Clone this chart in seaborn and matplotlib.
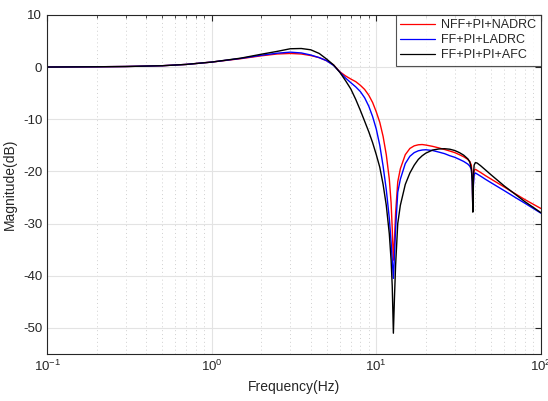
import numpy as np
import pandas as pd
import matplotlib
matplotlib.use('Agg')
import matplotlib.pyplot as plt
import matplotlib.ticker as mticker
import seaborn as sns

# frequency points (Hz), shared by the three curves
freq = [0.1, 0.2, 0.3, 0.5, 0.7, 1.0, 1.5, 2.0, 2.5, 3.0, 3.5, 4.0, 4.5, 5.0, 5.5,
        6.0, 6.5, 7.0, 7.5, 8.0, 8.5, 9.0, 9.5, 10.0, 10.5, 11.0, 11.5, 12.0, 12.3,
        12.5, 12.7, 12.9, 13.1, 13.5, 14.0, 15.0, 16.0, 17.0, 18.0, 19.0, 20.0,
        22.0, 24.0, 26.0, 28.0, 30.0, 32.0, 34.0, 36.0, 37.0, 37.8, 38.3, 38.6,
        38.9, 39.3, 40.0, 41.0, 43.0, 46.0, 50.0, 60.0, 70.0, 80.0, 90.0, 100.0]

mag_nff = [0.0, 0.05, 0.1, 0.25, 0.5, 0.95, 1.6, 2.15, 2.5, 2.6, 2.5, 2.2, 1.8, 1.2, 0.4,
           -0.9, -1.7, -2.3, -2.8, -3.5, -4.3, -5.4, -6.8, -8.6, -10.6, -13.3, -16.8, -21.5, -26.0,
           -31.0, -37.0, -33.0, -28.0, -22.0, -19.5, -16.8, -15.6, -15.1, -14.9, -14.85, -14.95,
           -15.2, -15.5, -15.8, -16.1, -16.4, -16.8, -17.2, -17.7, -18.1, -18.8, -21.0, -27.5,
           -22.0, -19.8, -19.6, -19.8, -20.2, -20.8, -21.5, -23.0, -24.3, -25.4, -26.3, -27.1]

mag_ladrc = [0.0, 0.05, 0.1, 0.25, 0.5, 0.95, 1.65, 2.25, 2.65, 2.85, 2.7, 2.3, 1.8, 1.2, 0.3,
             -0.95, -2.1, -3.0, -3.8, -4.7, -5.9, -7.5, -9.5, -11.9, -15.0, -19.0, -23.5, -29.0, -33.5,
             -37.0, -40.5, -36.0, -31.0, -24.0, -21.5, -18.5, -17.1, -16.4, -16.05, -15.9, -15.85,
             -16.0, -16.3, -16.6, -17.0, -17.3, -17.7, -18.1, -18.6, -19.0, -19.6, -21.8, -27.5,
             -22.7, -20.6, -20.3, -20.5, -20.9, -21.5, -22.2, -23.7, -25.0, -26.1, -27.1, -28.0]

mag_afc = [0.0, 0.05, 0.1, 0.25, 0.5, 0.95, 1.7, 2.45, 3.0, 3.5, 3.55, 3.3, 2.6, 1.5, 0.4,
           -1.0, -2.6, -4.2, -6.2, -8.3, -10.4, -12.4, -14.5, -16.8, -19.2, -22.5, -26.5, -32.0, -37.0,
           -42.0, -51.0, -44.0, -38.0, -30.0, -26.5, -22.5, -20.3, -18.8, -17.7, -17.0, -16.5,
           -15.9, -15.7, -15.65, -15.75, -16.0, -16.4, -16.9, -17.6, -18.2, -19.5, -22.0, -27.8,
           -21.0, -18.8, -18.3, -18.4, -18.9, -19.7, -20.7, -22.8, -24.4, -25.8, -26.9, -27.9]

labels = ['NFF+PI+NADRC', 'FF+PI+LADRC', 'FF+PI+PI+AFC']
colors = ['#ff0000', '#0000ff', '#000000']

df = pd.concat([
    pd.DataFrame({'freq': freq, 'mag': m, 'series': lab})
    for m, lab in zip([mag_nff, mag_ladrc, mag_afc], labels)
])

sns.set_style('white')
plt.rcParams['font.family'] = ['Liberation Sans', 'DejaVu Sans']
plt.rcParams['axes.unicode_minus'] = False
plt.rcParams['mathtext.fontset'] = 'custom'
plt.rcParams['mathtext.rm'] = 'Liberation Sans'

fig = plt.figure(figsize=(5.48, 4.01), dpi=100)
ax = fig.add_axes([0.086, 0.117, 0.901, 0.846])

sns.lineplot(data=df, x='freq', y='mag', hue='series', hue_order=labels,
             palette=colors, linewidth=1.0, ax=ax, estimator=None, sort=True)

ax.set_xscale('log')
ax.set_xlim(0.1, 100)
ax.set_ylim(-55, 10)
ax.set_yticks([10, 0, -10, -20, -30, -40, -50])
ax.xaxis.set_major_locator(mticker.LogLocator(base=10, numticks=10))
ax.xaxis.set_minor_locator(mticker.LogLocator(base=10, subs=np.arange(2, 10), numticks=10))
ax.xaxis.set_minor_formatter(mticker.NullFormatter())

ax.grid(which='major', axis='both', color='#e3e3e3', linestyle='-', linewidth=0.8)
ax.grid(which='minor', axis='x', color='#d0d0d0', linestyle=(0, (1, 3)), linewidth=0.7)
ax.set_axisbelow(True)

for s in ax.spines.values():
    s.set_color('#262626')
    s.set_linewidth(0.8)
ax.tick_params(which='both', direction='in', top=True, right=True, colors='#262626',
               labelsize=9.5, labelcolor='#262626')
ax.tick_params(which='major', length=4)
ax.tick_params(which='minor', length=2)

ax.set_xlabel('Frequency(Hz)', fontsize=10, color='#262626')
ax.set_ylabel('Magnitude(dB)', fontsize=10, color='#262626')

leg = ax.legend(loc='upper right', fontsize=9, frameon=True, fancybox=False,
                borderaxespad=0.0, handlelength=2.8, handletextpad=0.5,
                borderpad=0.35, labelspacing=0.25)
leg.get_frame().set_edgecolor('#262626')
leg.get_frame().set_linewidth(0.8)
for line in leg.get_lines():
    line.set_linewidth(0.9)
leg.set_title(None)

fig.savefig('out.png', dpi=100)
